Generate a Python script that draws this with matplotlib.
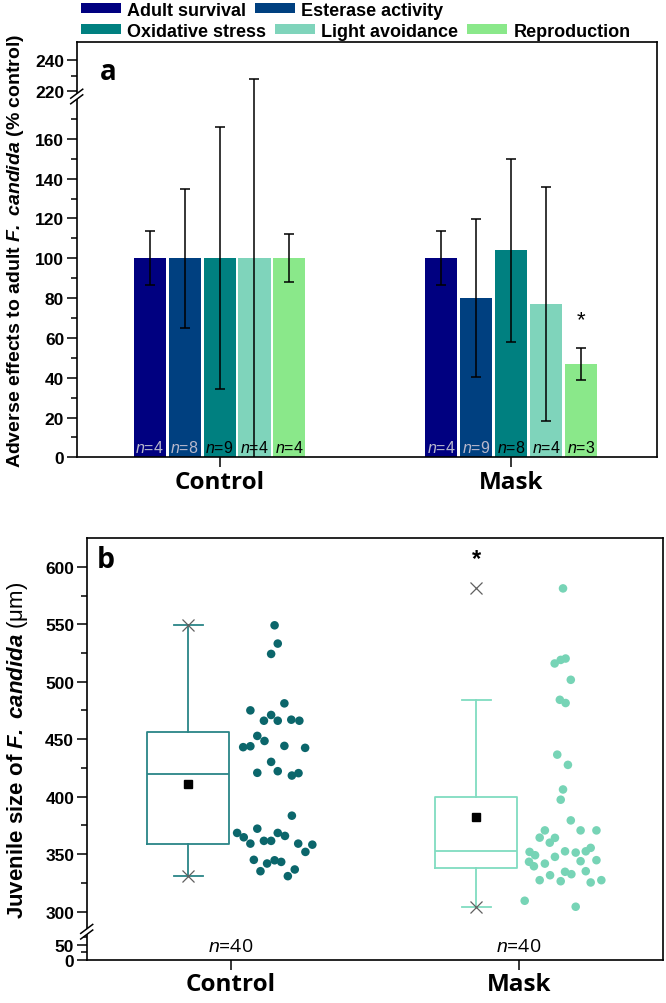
import matplotlib
matplotlib.use("Agg")
import matplotlib.pyplot as plt
import numpy as np
from matplotlib.patches import Patch, Polygon
from matplotlib.lines import Line2D

plt.rcParams['font.family'] = ['Liberation Sans', 'DejaVu Sans']
plt.rcParams['mathtext.fontset'] = 'custom'
plt.rcParams['mathtext.rm'] = 'Liberation Sans'
plt.rcParams['mathtext.it'] = 'Liberation Sans:italic'
plt.rcParams['mathtext.bf'] = 'Liberation Sans:bold'
plt.rcParams['mathtext.bfit'] = 'Liberation Sans:italic:bold'

# ---- panel a data ----
groups = ['Control', 'Mask']
endpoints = ['Adult survival', 'Esterase activity', 'Oxidative stress',
             'Light avoidance', 'Reproduction']
colors = ['#000080', '#004080', '#008080', '#7fd4bb', '#8ae88a']
control_mean = [100, 100, 100, 100, 100]
control_err = [13.5, 35, 65.7, 128, 12]
mask_mean = [100, 80, 104, 77, 47]
mask_err = [13.5, 39.6, 46, 59, 8]
control_n = [4, 8, 9, 4, 4]
mask_n = [4, 9, 8, 4, 3]

# ---- panel b data ----
control_size = [549.1, 533.2, 524.2, 481.2, 475.1, 471.1, 466.1, 466.1, 467.0, 466.1,
                452.9, 448.5, 443.1, 443.9, 444.2, 442.5, 430.3, 422.2, 420.8, 418.4,
                420.5, 383.5, 368.5, 364.7, 372.2, 359.2, 361.6, 361.6, 368.5, 365.9,
                359.2, 358.3, 352.0, 345.1, 341.9, 344.7, 343.3, 335.2, 336.7, 330.9]
control_jit = [0.152, 0.163, 0.140, 0.186, 0.068, 0.140, 0.115, 0.163, 0.210, 0.238,
               0.092, 0.117, 0.043, 0.068, 0.186, 0.258, 0.140, 0.163, 0.092, 0.212,
               0.235, 0.212, 0.022, 0.045, 0.092, 0.068, 0.115, 0.140, 0.163, 0.188,
               0.234, 0.283, 0.259, 0.080, 0.126, 0.152, 0.175, 0.103, 0.222, 0.198]
mask_size = [581.2, 515.9, 519.0, 520.2, 501.7, 484.3, 481.5, 436.6, 427.7, 406.3,
             397.4, 379.4, 370.7, 370.7, 370.7, 364.4, 360.0, 364.2, 352.0, 349.1,
             343.4, 339.5, 347.7, 352.5, 351.4, 352.5, 355.5, 341.8, 343.9, 344.8,
             331.7, 327.4, 334.7, 332.6, 326.5, 335.2, 325.4, 327.4, 309.5, 304.3]
mask_jit = [0.153, 0.124, 0.145, 0.162, 0.180, 0.142, 0.162, 0.133, 0.170, 0.153,
            0.145, 0.180, 0.090, 0.214, 0.269, 0.072, 0.107, 0.125, 0.037, 0.056,
            0.035, 0.052, 0.125, 0.160, 0.197, 0.232, 0.249, 0.090, 0.214, 0.269,
            0.108, 0.072, 0.160, 0.182, 0.145, 0.232, 0.249, 0.286, 0.020, 0.197]
size_colors = ['#0b666b', '#77d4b6']
box_colors = ['#2a8587', '#80dcc0']
size_n = [40, 40]


def broken_scale(d, p):
    # piecewise linear axis: d = data knots, p = display knots
    fwd = lambda y: np.interp(y, d, p)
    inv = lambda y: np.interp(y, p, d)
    return fwd, inv


def add_break(ax, yfrac, w_px, h_px):
    dx, dy, g = 6.0 / w_px, 4.5 / h_px, 2.8 / h_px
    white = Polygon([(-dx, yfrac - dy - g), (dx, yfrac + dy - g),
                     (dx, yfrac + dy + g), (-dx, yfrac - dy + g)],
                    closed=True, transform=ax.transAxes, facecolor='white',
                    edgecolor='none', clip_on=False, zorder=10)
    ax.add_patch(white)
    for s in (-g, g):
        ax.add_line(Line2D([-dx, dx], [yfrac - dy + s, yfrac + dy + s],
                           transform=ax.transAxes, color='black', lw=1.1,
                           clip_on=False, zorder=11))


def style_axis(ax):
    ax.tick_params(axis='y', which='major', direction='out', length=7, width=1.1,
                   labelsize=12.5, pad=2)
    ax.tick_params(axis='y', which='minor', direction='out', length=4.3, width=1.1)
    ax.tick_params(axis='x', direction='out', length=7, width=1.1, pad=2)
    for lab in ax.get_yticklabels():
        lab.set_fontweight('bold')
    for sp in ax.spines.values():
        sp.set_linewidth(1.2)


fig = plt.figure(figsize=(6.66, 10.04), dpi=100)

# ================= panel a =================
axa = fig.add_axes([0.1152, 0.5435, 0.8713, 0.4133])
fa, ia = broken_scale([-200, 181, 217, 500], [-400, 362, 363, 363 + 283 * 1.585])
axa.set_yscale('function', functions=(fa, ia))

step = 0.1196
bw = 0.11
for i in range(len(endpoints)):
    xs = np.array([1, 2]) + (i - 2) * step
    means = [control_mean[i], mask_mean[i]]
    errs = [control_err[i], mask_err[i]]
    axa.bar(xs, means, width=bw, color=colors[i], label=endpoints[i], zorder=2)
    axa.errorbar(xs, means, yerr=errs, fmt='none', ecolor='black',
                 elinewidth=1.1, capsize=3.3, capthick=1.1, zorder=3)
    ncol = '#b8b8cc' if i < 2 else 'black'
    for x, n in zip(xs, [control_n[i], mask_n[i]]):
        axa.text(x, 5, '$n$=%d' % n, ha='center', va='center', fontsize=11.5,
                 color=ncol, zorder=4)

axa.text(2 + 2 * step, 69, '*', ha='center', va='center', fontsize=16)

axa.set_xlim(0.51, 2.5)
axa.set_ylim(0, 251)
axa.set_yticks([0, 20, 40, 60, 80, 100, 120, 140, 160, 220, 240])
axa.set_yticks([10, 30, 50, 70, 90, 110, 130, 150, 170, 230], minor=True)
axa.set_xticks([1, 2])
axa.set_xticklabels(groups, fontfamily='Open Sans', fontweight='bold', fontsize=17.5)
style_axis(axa)
axa.set_ylabel(r'Adverse effects to adult $\bfit{F.\ candida}$ (% control)',
               fontsize=14, fontweight='bold')
axa.yaxis.set_label_coords(-0.087, 0.5)
axa.text(0.04, 0.93, 'a', transform=axa.transAxes, fontsize=20,
         fontfamily='Open Sans', fontweight='bold', va='center')

ya = (fa(199) - fa(0)) / (fa(251) - fa(0))
add_break(axa, ya, 580.3, 415.0)

handles = [Patch(facecolor=c) for c in colors]
leg_kw = dict(loc='center left', frameon=False, borderpad=0, borderaxespad=0,
              handlelength=2.2, handleheight=0.52, handletextpad=0.36,
              columnspacing=0.5, prop={'weight': 'bold', 'size': 13})
fig.legend(handles[:2], endpoints[:2], ncol=2,
           bbox_to_anchor=(0.1216, 0.989), **leg_kw)
fig.legend(handles[2:], endpoints[2:], ncol=3,
           bbox_to_anchor=(0.1216, 0.968), **leg_kw)

# ================= panel b =================
axb = fig.add_axes([0.1302, 0.0431, 0.8653, 0.42])
fb, ib = broken_scale([-100, 92, 283, 900], [-30, 27.6, 28.6, 28.6 + 617 * 1.1533])
axb.set_yscale('function', functions=(fb, ib))

box_off = -0.148
for k, (vals, jit) in enumerate([(control_size, control_jit), (mask_size, mask_jit)]):
    pos = k + 1
    axb.boxplot([vals], positions=[pos + box_off], widths=0.285, whis=1.5,
                showfliers=False, showmeans=True, capwidths=[0.1],
                boxprops=dict(color=box_colors[k], lw=1.3),
                whiskerprops=dict(color=box_colors[k], lw=1.3),
                capprops=dict(color=box_colors[k], lw=1.3),
                medianprops=dict(color=box_colors[k], lw=1.3),
                meanprops=dict(marker='s', markerfacecolor='black',
                               markeredgecolor='black', markersize=5.5))
    axb.plot([pos + box_off] * 2, [min(vals), max(vals)], ls='none', marker='x',
             color='#606060', ms=8, mew=0.9, zorder=5)
    axb.scatter(pos + np.array(jit), vals, s=38, color=size_colors[k],
                edgecolors='none', zorder=4)
    axb.text(pos, 45, '$n$=%d' % size_n[k], ha='center', va='center',
             fontsize=14, fontfamily='Open Sans')

axb.text(2 + box_off, 607, '*', ha='center', va='center', fontsize=17,
         fontweight='bold')

axb.set_xlim(0.5, 2.5)
axb.set_ylim(0, 625)
axb.set_yticks([0, 50, 300, 350, 400, 450, 500, 550, 600])
axb.set_yticks([25, 75, 325, 375, 425, 475, 525, 575], minor=True)
axb.set_xticks([1, 2])
axb.set_xticklabels(groups, fontfamily='Open Sans', fontweight='bold', fontsize=17.5)
style_axis(axb)
axb.set_ylabel(r'Juvenile size of $\bfit{F.\ candida}$ $\mathrm{(\mu m)}$',
               fontsize=16, fontweight='bold')
axb.yaxis.set_label_coords(-0.099, 0.5)
axb.text(0.017, 0.948, 'b', transform=axb.transAxes, fontsize=20.5,
         fontfamily='Open Sans', fontweight='bold', va='center')

yb = (fb(187) - fb(0)) / (fb(625) - fb(0))
add_break(axb, yb, 576.3, 421.7)

fig.savefig('out.png', dpi=100)
